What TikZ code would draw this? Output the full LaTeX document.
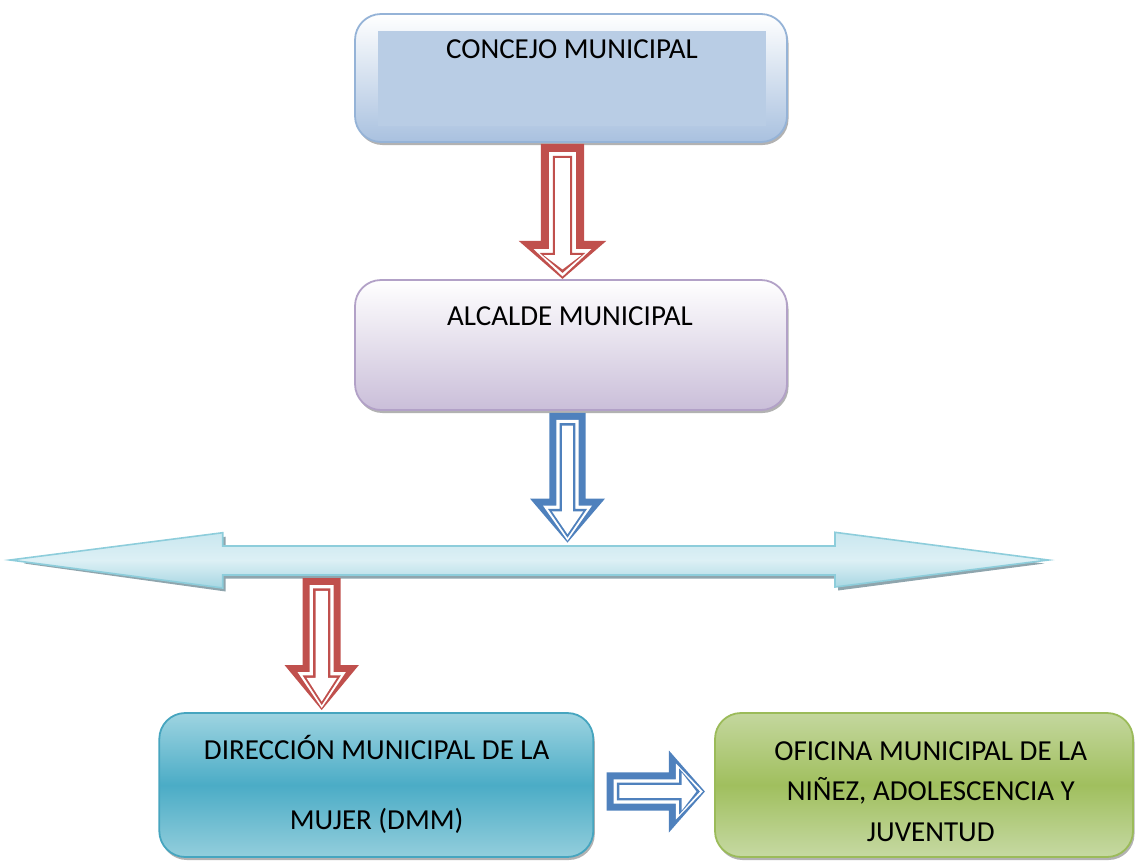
\documentclass[tikz,border=0pt]{standalone}
\usepackage{fontspec}
\setmainfont{Carlito}
\usetikzlibrary{shadows,calc}
\definecolor{cjBorder}{HTML}{95B3D7}
\definecolor{cjBot}{HTML}{A9C1DF}
\definecolor{cjInner}{HTML}{B9CDE5}
\definecolor{alBorder}{HTML}{B2A1C7}
\definecolor{alBot}{HTML}{CABED9}
\definecolor{dmBorder}{HTML}{46A5BF}
\definecolor{dmTop}{HTML}{9ED4E1}
\definecolor{dmMid}{HTML}{4BACC6}
\definecolor{dmBot}{HTML}{93CEDC}
\definecolor{ofBorder}{HTML}{9BBB59}
\definecolor{ofTop}{HTML}{C4D79E}
\definecolor{ofMid}{HTML}{A0BF5E}
\definecolor{ofBot}{HTML}{C6D9A3}
\definecolor{arRed}{HTML}{C0504D}
\definecolor{arBlue}{HTML}{4F81BD}
\definecolor{daBorder}{HTML}{8DCDDB}
\definecolor{daTop}{HTML}{C9E7EF}
\definecolor{daMid}{HTML}{DDF0F5}
\definecolor{daBot}{HTML}{A6D6E2}
\definecolor{daShadow}{HTML}{8FA5AD}

% one layer of a block arrow, local frame: axis along +y, start at y=0
% #1 length, #2 head start, #3 shaft half-width, #4 head half-width,
% #5 shaft inset, #6 head-width inset, #7 tip inset, #8 options
\newcommand{\arrlayer}[8]{%
  \pgfmathsetmacro{\arrW}{#3-#5}%
  \pgfmathsetmacro{\arrY}{#2+#5}%
  \pgfmathsetmacro{\arrH}{#4-#6}%
  \pgfmathsetmacro{\arrT}{#1-#7}%
  \path[#8] (-\arrW,#5) -- (\arrW,#5) -- (\arrW,\arrY) -- (\arrH,\arrY)
    -- (0,\arrT) -- (-\arrH,\arrY) -- (-\arrW,\arrY) -- cycle;%
}
% big block arrow with inner double outline
\newcommand{\bigarrow}[5]{%
  \arrlayer{#1}{#2}{#3}{#4}{0}{0}{0}{fill=#5}%
  \arrlayer{#1}{#2}{#3}{#4}{8.3}{15}{2.5}{fill=white}%
  \arrlayer{#1}{#2}{#3}{#4}{12}{21}{6}{fill=#5}%
  \arrlayer{#1}{#2}{#3}{#4}{14.3}{25}{9.5}{fill=white}%
}
\newcommand{\smallarrow}[5]{%
  \arrlayer{#1}{#2}{#3}{#4}{0}{0}{0}{fill=#5}%
  \arrlayer{#1}{#2}{#3}{#4}{7}{13}{2}{fill=white}%
  \arrlayer{#1}{#2}{#3}{#4}{10.3}{18}{5}{fill=#5}%
  \arrlayer{#1}{#2}{#3}{#4}{12.8}{22}{8.5}{fill=white}%
}

\begin{document}
\begin{tikzpicture}[x=1pt,y=-1pt,
  box/.style={rectangle, rounded corners=26pt, line width=1.8pt, inner sep=0pt,
    drop shadow={shadow xshift=1.5pt, shadow yshift=-3pt, fill=black!55, opacity=0.55}},
  lbl/.style={font=\fontsize{29}{35}\selectfont, anchor=base, inner sep=0pt, text=black}]
\useasboundingbox (0,0) rectangle (1135,863);

% boxes
\node[box, draw=cjBorder, top color=white, bottom color=cjBot,
  minimum width=432pt, minimum height=128pt] (concejo) at (571,78) {};
\fill[cjInner] (378,31) rectangle (766,126);
\node[lbl] (concejoT) at (572,58.3) {CONCEJO MUNICIPAL};

\node[box, draw=alBorder, top color=white, bottom color=alBot,
  minimum width=432pt, minimum height=130pt] (alcalde) at (571,345) {};
\node[lbl] (alcaldeT) at (570,325.5) {ALCALDE MUNICIPAL};

\node[box, draw=dmBorder, top color=dmTop, bottom color=dmBot, middle color=dmMid,
  minimum width=434pt, minimum height=144pt] (dmm) at (376.3,785) {};
\node[lbl] (dmmT1) at (376.7,759.3) {DIRECCIÓN MUNICIPAL DE LA};
\node[lbl] (dmmT2) at (376.7,829.3) {MUJER (DMM)};

\node[box, draw=ofBorder, top color=ofTop, bottom color=ofBot, middle color=ofMid,
  minimum width=418pt, minimum height=144pt] (oficina) at (924,785) {};
\node[lbl] (ofT1) at (930.8,760) {OFICINA MUNICIPAL DE LA};
\node[lbl] (ofT2) at (930.8,800) {NIÑEZ, ADOLESCENCIA Y};
\node[lbl] (ofT3) at (930.8,841.7) {JUVENTUD};

% wide double-headed arrow
\coordinate (dL) at (10,560);
\coordinate (dR) at (1048.3,560);
\fill[daShadow] ($(dL)+(14,3.5)$) -- (225.7,536.7) -- (225.7,549) -- (838,549) -- (838,536.3)
  -- ($(dR)+(-4,3.5)$) -- (838,590.5) -- (838,578.5) -- (225.7,578.5) -- (225.7,591.5) -- cycle;
\path[draw=daBorder, line width=1.6pt, top color=daTop, bottom color=daBot, middle color=daMid]
  (dL) -- (222.7,532.7) -- (222.7,546) -- (835,546) -- (835,532.3) -- (dR)
  -- (835,587) -- (835,575) -- (222.7,575) -- (222.7,588) -- cycle;

% block arrows
\begin{scope}[shift={($(concejo.south)+(-8.5,1)$)}]
  \bigarrow{135}{97}{21.7}{43.8}{arRed}
\end{scope}
\begin{scope}[shift={($(alcalde.south)+(-3.5,2)$)}]
  \smallarrow{129.7}{85.7}{18.2}{37.5}{arBlue}
\end{scope}
\begin{scope}[shift={(321.7,578)}]
  \smallarrow{132}{87}{19}{37.2}{arRed}
\end{scope}
\begin{scope}[shift={($(dmm.east)+(12.4,6.5)$)}, rotate=90]
  \smallarrow{98.3}{62.3}{19.2}{41}{arBlue}
\end{scope}
\end{tikzpicture}
\end{document}
